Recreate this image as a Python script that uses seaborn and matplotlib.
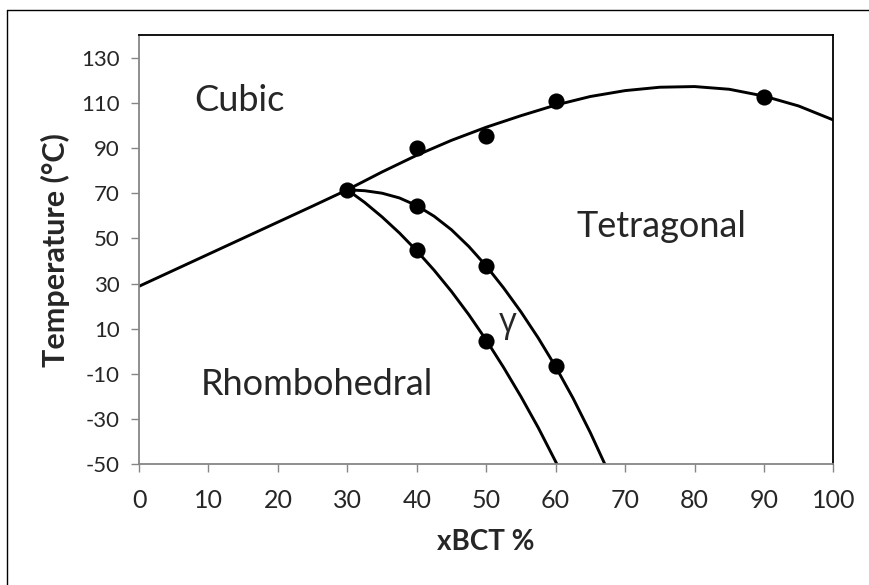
import matplotlib
matplotlib.use('Agg')
import matplotlib.pyplot as plt
import seaborn as sns
import pandas as pd
from matplotlib.lines import Line2D

# boundary Cubic / Rhombohedral
cr_x = [0, 5, 10, 15, 20, 25, 30]
cr_y = [28.8, 35.9, 43.0, 50.1, 57.2, 64.3, 71.5]

# boundary Cubic / Tetragonal
ct_x = [30, 35, 40, 45, 50, 55, 60, 65, 70, 75, 80, 85, 90, 95, 100]
ct_y = [71.5, 79.4, 86.8, 93.4, 99.2, 104.3, 109.0, 112.8, 115.4, 116.9, 117.2, 116.0, 113.0, 108.6, 102.4]

# boundary gamma / Tetragonal
gt_x = [30, 32.5, 35, 37.5, 40, 42.5, 45, 47.5, 50, 52.5, 55, 57.5, 60, 62.5, 65, 67.1]
gt_y = [71.5, 71.1, 70.0, 67.9, 64.5, 59.8, 53.8, 46.4, 37.8, 28.1, 17.5, 5.9, -6.8, -20.7, -36.0, -50.0]

# boundary Rhombohedral / gamma
rg_x = [30, 32.5, 35, 37.5, 40, 42.5, 45, 47.5, 50, 52.5, 55, 57.5, 60.2]
rg_y = [71.5, 65.9, 59.5, 52.4, 44.5, 35.9, 26.5, 16.2, 5.0, -7.1, -20.0, -33.8, -50.0]

# measured points
pt_x = [30, 40, 50, 60, 90, 40, 50, 60, 40, 50]
pt_y = [71.5, 90.0, 95.5, 110.6, 112.7, 64.5, 37.6, -6.6, 44.7, 4.6]

x_ticks = list(range(0, 101, 10))
y_ticks = list(range(-50, 131, 20))

sns.set_theme(style='white')
plt.rcParams['font.family'] = ['Lato', 'DejaVu Sans']
plt.rcParams['axes.unicode_minus'] = False

fig = plt.figure(figsize=(8.69, 5.85), dpi=100)
ax = fig.add_axes([0.160, 0.2063, 0.799, 0.7338])

lines = [(cr_x, cr_y), (ct_x, ct_y), (gt_x, gt_y), (rg_x, rg_y)]
for lx, ly in lines:
    d = pd.DataFrame({'x': lx, 'y': ly})
    sns.lineplot(data=d, x='x', y='y', ax=ax, color='black', lw=2.1,
                 sort=False, estimator=None)

pts = pd.DataFrame({'x': pt_x, 'y': pt_y})
sns.scatterplot(data=pts, x='x', y='y', ax=ax, color='black', s=135,
                edgecolor='black', linewidth=0, zorder=5)

ax.set_xlim(0, 100)
ax.set_ylim(-50, 140)
ax.set_xticks(x_ticks)
ax.set_yticks(y_ticks)
ax.tick_params(axis='x', labelsize=18, length=6, width=1, color='#868686',
               pad=12, direction='out', bottom=True)
ax.tick_params(axis='y', labelsize=16, length=6, width=1, color='#868686',
               pad=8, direction='out', left=True)

for side in ['top', 'right']:
    ax.spines[side].set_color('black')
    ax.spines[side].set_linewidth(1.3)
for side in ['left', 'bottom']:
    ax.spines[side].set_color('#868686')
    ax.spines[side].set_linewidth(1.3)

ax.set_xlabel('xBCT %', fontsize=20, fontweight='bold', labelpad=12)
ax.set_ylabel('Temperature (°C)', fontsize=22, fontweight='bold', labelpad=8)

ax.text(14.5, 110.9, 'Cubic', fontsize=26, ha='center', va='center')
ax.text(75.2, 55.3, 'Tetragonal', fontsize=26, ha='center', va='center')
ax.text(25.6, -14.5, 'Rhombohedral', fontsize=26, ha='center', va='center')
ax.text(53.1, 12.5, 'γ', fontsize=25, ha='center', va='center',
        family=['Open Sans', 'DejaVu Sans'])

# outer frame of the picture
fig.add_artist(Line2D([7 / 869, 7 / 869], [0, 1 - 10 / 585], color='black', lw=1))
fig.add_artist(Line2D([7 / 869, 1], [1 - 10 / 585, 1 - 10 / 585], color='black', lw=1))

fig.savefig('out.png', dpi=100)
